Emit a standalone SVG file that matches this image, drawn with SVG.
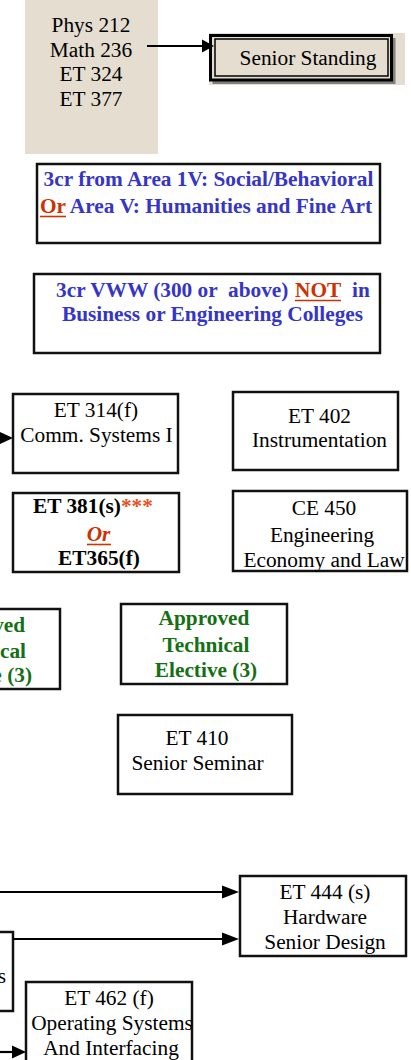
<svg xmlns="http://www.w3.org/2000/svg" width="411" height="1060" viewBox="0 0 411 1060">
<style>
  text { font-family: "Liberation Serif", "Times New Roman", serif; font-size: 21.33px; fill: #000; }
  .c { text-anchor: middle; }
  .e { text-anchor: end; }
  .b { font-weight: bold; }
  .blue { fill: #3535c8; font-weight: bold; }
  .red { fill: #cc3300; font-weight: bold; }
  .green { fill: #157015; font-weight: bold; }
  .box { fill: #fff; stroke: #111; stroke-width: 2.5; }
  .conn line { stroke: #000; stroke-width: 2.2; }
  .conn polygon { fill: #000; }
  .ul { stroke: #cc3300; stroke-width: 1.6; }
</style>

<g id="prereqs">
  <rect x="25" y="0" width="133" height="154" fill="#e5ddd0"/>
  <text class="c" x="91" y="32">Phys 212</text>
  <text class="c" x="91" y="56.5">Math 236</text>
  <text class="c" x="91" y="81">ET 324</text>
  <text class="c" x="91" y="106">ET 377</text>
</g>

<g id="senior-standing">
  <rect x="209" y="33" width="196" height="52" fill="#e5ddd0"/>
  <rect x="212.5" y="38" width="183" height="46" fill="#808080"/>
  <rect x="210.5" y="35.5" width="181" height="44.5" fill="#e5ddd0" stroke="#000" stroke-width="3"/>
  <rect x="215" y="39" width="173" height="37" fill="none" stroke="#000" stroke-width="1.5"/>
  <text class="c" x="308" y="65">Senior Standing</text>
</g>

<g id="area-iv-v">
  <rect class="box" x="37" y="164" width="343" height="79"/>
  <text class="blue c" x="208.5" y="186">3cr from Area 1V: Social/Behavioral</text>
  <text x="40" y="213"><tspan class="red">Or</tspan><tspan class="blue"> Area V: Humanities and Fine Art</tspan></text>
  <line class="ul" x1="40" y1="216.5" x2="66" y2="216.5"/>
</g>

<g id="vww">
  <rect class="box" x="34" y="274" width="346" height="79"/>
  <text class="blue" x="56" y="297" style="white-space:pre">3cr VWW (300 or  above)</text>
  <text class="red" x="295" y="297">NOT</text>
  <line class="ul" x1="295" y1="300.5" x2="341" y2="300.5"/>
  <text class="blue" x="352" y="297">in</text>
  <text class="blue c" x="212.5" y="321">Business or Engineering Colleges</text>
</g>

<g id="et314">
  <rect class="box" x="13" y="394" width="165" height="79"/>
  <text class="c" x="96" y="417">ET 314(f)</text>
  <text class="c" x="96.5" y="442">Comm. Systems I</text>
</g>

<g id="et402">
  <rect class="box" x="233" y="392" width="165" height="78"/>
  <text class="c" x="319.5" y="423">ET 402</text>
  <text class="c" x="319.5" y="447">Instrumentation</text>
</g>

<g id="et381-or-et365">
  <rect class="box" x="13" y="493" width="166" height="79"/>
  <text class="b" x="33" y="513">ET 381(s)<tspan fill="#e8501c">***</tspan></text>
  <text class="red c" x="98.5" y="541" font-style="italic">Or</text>
  <line class="ul" x1="87" y1="544.5" x2="111" y2="544.5"/>
  <text class="b c" x="99" y="565">ET365(f)</text>
</g>

<g id="ce450">
  <rect class="box" x="233" y="491" width="174" height="80"/>
  <text class="c" x="324" y="515">CE 450</text>
  <text class="c" x="322" y="542">Engineering</text>
  <text class="c" x="324" y="567">Economy and Law</text>
</g>

<g id="tech-elective-1">
  <rect class="box" x="-110" y="609" width="170" height="80"/>
  <text class="green e" x="25" y="632">ved</text>
  <text class="green e" x="26" y="658">cal</text>
  <text class="green e" x="32" y="682">e (3)</text>
</g>

<g id="tech-elective-2">
  <rect class="box" x="121" y="604" width="166" height="80"/>
  <text class="green c" x="204" y="625">Approved</text>
  <text class="green c" x="206" y="652">Technical</text>
  <text class="green c" x="206" y="677">Elective (3)</text>
</g>

<g id="et410">
  <rect class="box" x="118" y="715" width="174" height="79"/>
  <text class="c" x="197" y="745">ET 410</text>
  <text class="c" x="197.5" y="770">Senior Seminar</text>
</g>

<g id="et444">
  <rect class="box" x="240" y="876" width="166" height="80"/>
  <text class="c" x="325" y="899">ET 444 (s)</text>
  <text class="c" x="325" y="924">Hardware</text>
  <text class="c" x="325" y="949">Senior Design</text>
</g>

<g id="left-systems">
  <rect class="box" x="-110" y="932" width="123" height="79"/>
  <text class="e" x="6" y="983">s</text>
</g>

<g id="et462">
  <rect class="box" x="26" y="982" width="166" height="100"/>
  <text class="c" x="109" y="1005">ET 462 (f)</text>
  <text class="c" x="112" y="1030">Operating Systems</text>
  <text class="c" x="111" y="1055">And Interfacing</text>
</g>

<g id="connectors" class="conn">
  <line x1="147" y1="46" x2="204" y2="46"/>
  <polygon points="202,39.5 214,46 202,52.5"/>
  <line x1="-10" y1="438" x2="2" y2="438"/>
  <polygon points="0,432 13,438 0,444"/>
  <line x1="0" y1="892" x2="224" y2="892"/>
  <polygon points="222,885.5 239,892 222,898.5"/>
  <line x1="13" y1="939" x2="224" y2="939"/>
  <polygon points="222,932.5 239,939 222,945.5"/>
  <line x1="0" y1="1052" x2="14" y2="1052"/>
  <polygon points="12,1045.5 26,1052 12,1058.5"/>
</g>
</svg>
